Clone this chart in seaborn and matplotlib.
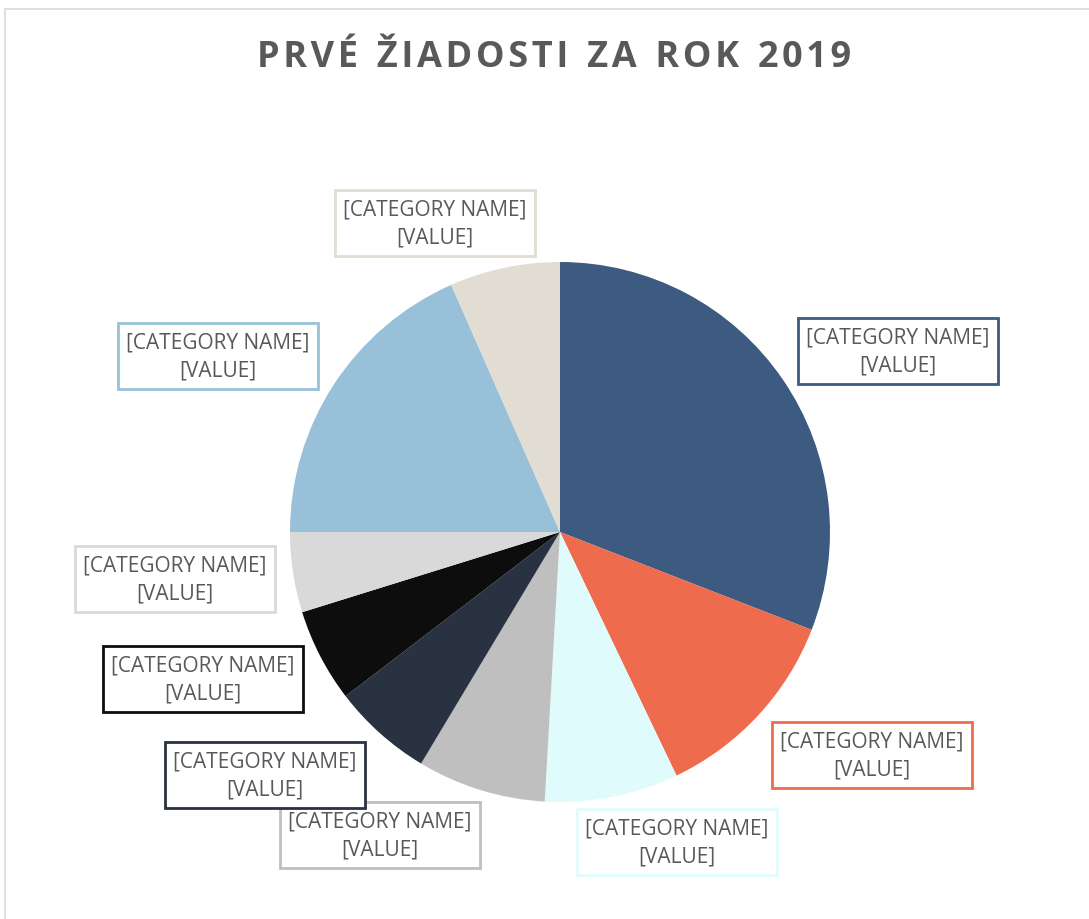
import numpy as np
import seaborn as sns
import matplotlib.pyplot as plt
from matplotlib.patches import Rectangle

# Data (shares)
categories = ['[CATEGORY NAME]'] * 9
values = [30.9, 12.0, 8.0, 7.7, 6.0, 5.6, 4.8, 18.4, 6.6]
value_labels = ['[VALUE]'] * 9
colors = ['#3D5A80', '#EE6C4D', '#E0FBFC', '#BFBFBF', '#293241',
          '#0D0D0D', '#D9D9D9', '#98C1D9', '#E2DDD3']
title = 'PRVÉ ŽIADOSTI ZA ROK 2019'

sns.set_theme(style='white')
plt.rcParams['font.family'] = ['Open Sans', 'DejaVu Sans']

W, H = 1089, 920
fig = plt.figure(figsize=(W / 100, H / 100), dpi=100)
ax = fig.add_axes([0, 0, 1, 1])

# chart frame
fig.patches.append(Rectangle((5 / W, -0.1), 1.2, (H - 10) / H + 0.1,
                             transform=fig.transFigure, fill=False,
                             edgecolor='#D9D9D9', linewidth=1.2))

cx, cy, r = 560, H - 533, 270
wedges, _ = ax.pie(values, colors=colors, startangle=90, counterclock=False,
                   center=(cx, cy), radius=r, frame=True,
                   wedgeprops=dict(linewidth=0))
ax.set_xlim(0, W)
ax.set_ylim(0, H)
ax.axis('off')

# label box centres (layout, in pixels from top-left)
label_pos = [(898, 352), (872, 756), (677, 843), (380, 836), (265, 776),
             (203, 680), (175, 580), (218, 357), (435, 224)]

for (lx, ly), cat, val, c in zip(label_pos, categories, value_labels, colors):
    ax.text(lx, H - ly, f'{cat}\n{val}', ha='center', va='center',
            fontsize=15, color='#595959', linespacing=1.45,
            bbox=dict(boxstyle='square,pad=0.42', facecolor='white',
                      edgecolor=c, linewidth=2))

spaced = '  '.join('\u200a'.join(w) for w in title.split(' '))
ax.text(W / 2 + 10, H - 58, spaced, ha='center', va='center',
        fontsize=26, fontweight='bold', color='#595959')

fig.savefig('out.png', dpi=100)
